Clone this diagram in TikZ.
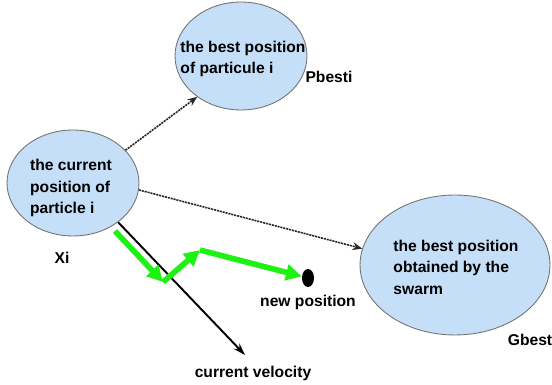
\documentclass[tikz,border=0pt]{standalone}
\usepackage{fontspec}
\setmainfont{Liberation Sans}
\usetikzlibrary{shapes.geometric,arrows.meta}
\definecolor{bubblefill}{RGB}{198,223,249}
\definecolor{swarmgreen}{RGB}{30,242,20}
\tikzset{
  bubble/.style={ellipse, draw=black!55, line width=0.5pt, fill=bubblefill, inner sep=0pt},
  tag/.style={font=\bfseries\fontsize{8.9}{12.2}\selectfont, inner sep=0pt},
  bestlink/.style={dash pattern=on 1.2pt off 0.5pt, line width=0.9pt, black!85, -{Stealth[length=5.5pt,width=4.5pt]}},
  greenstep/.style={swarmgreen, line width=3.2pt, -{Triangle[length=9pt,width=9pt]}},
}
\begin{document}
\begin{tikzpicture}[x=0.02cm, y=-0.02cm]
  \useasboundingbox (0,0) rectangle (552,385);

  % Particle, its best and the swarm best
  \node[bubble, minimum width=2.64cm, minimum height=2.12cm] (cur) at (73,183) {};
  \node[tag, align=left] (curtxt) at (71,188) {the current\\position of\\particle i};
  \node[bubble, minimum width=2.64cm, minimum height=2.16cm] (pb) at (241,56) {};
  \node[tag, align=left] (pbtxt) at (243,59) {the best position\\of particule i};
  \node[bubble, minimum width=3.8cm, minimum height=2.8cm] (gb) at (455,265) {};
  \node[tag, align=left] (gbtxt) at (456,267) {the best position\\obtained by the\\swarm};

  % Names below the bubbles
  \node[tag] (xi) at (62,258) {Xi};
  \node[tag] (pbesti) at (329,77) {Pbesti};
  \node[tag] (gbest) at (530,340) {Gbest};

  % Pull towards the best positions
  \draw[bestlink] (cur.32) -- (pb.223);
  \draw[bestlink] (cur.-6) -- (gb.170);

  % Current velocity
  \coordinate (vel) at (245,355);
  \draw[line width=1.1pt, -{Stealth[length=7pt,width=4.5pt]}] (cur.-41) -- (vel);
  \node[tag] (vellbl) at (253,373) {current velocity};

  % New position reached by the three moves
  \node[ellipse, fill=black, minimum width=0.24cm, minimum height=0.36cm, inner sep=0pt] (newpos) at (308,278) {};
  \node[tag] (newposlbl) at (308,302) {new position};
  \coordinate (g0) at (115,231);
  \coordinate (g1) at (163,282);
  \coordinate (g2) at (200,250);
  \draw[greenstep] (g0) -- (g1);
  \draw[greenstep] (g1) -- (g2);
  \draw[greenstep] (g2) -- (newpos);
\end{tikzpicture}
\end{document}
